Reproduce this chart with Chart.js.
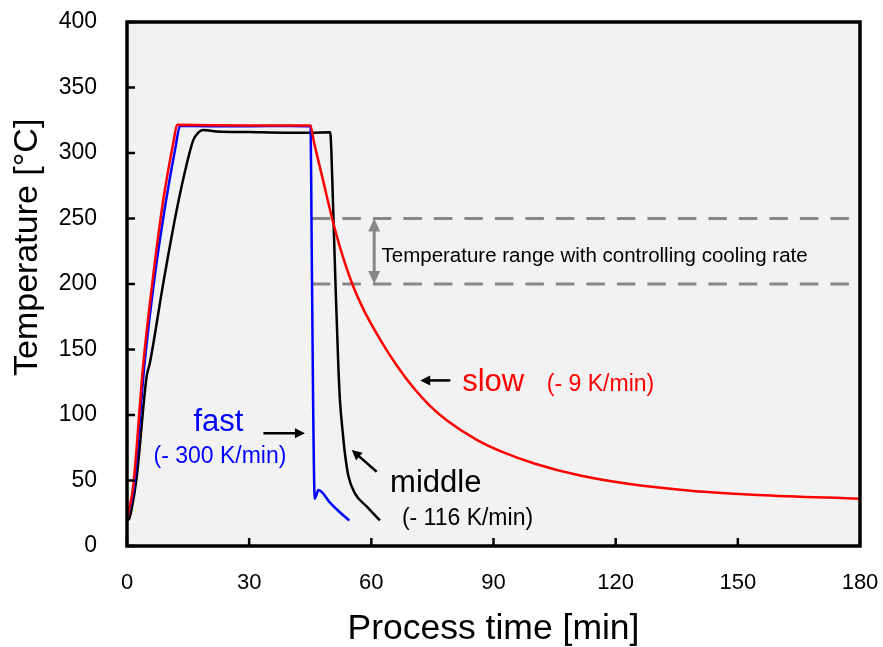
<!DOCTYPE html>
<html>
<head>
<meta charset="utf-8">
<script src="https://cdn.jsdelivr.net/npm/chart.js@4.4.1/dist/chart.umd.min.js"></script>
<style>
  body { margin: 0; background: #fff; }
  canvas { display: block; }
</style>
</head>
<body>
<canvas id="myChart" width="883" height="647"></canvas>
<script>
// process time [min] / temperature [°C]
const timeSlow = [0, 0.5, 1.5, 4.0, 6.5, 8.9, 11.5, 12.3, 20, 30, 40, 45, 46, 48, 50.3, 52.5, 55.2, 58, 62.1, 66.2, 70.3, 74.4, 78.5, 85.9, 92, 100, 111, 123, 139, 155, 180];
const tempSlow = [20.5, 28, 45, 139, 208, 264, 310, 321.5, 321.2, 321, 321, 321, 307, 281, 251, 226, 201, 181, 158, 138, 121, 107, 96, 81, 72, 63, 54, 47.5, 42, 39, 36];

const timeFast = [0, 0.6, 1.7, 4.3, 6.9, 9.5, 12, 13.0, 20, 30, 40, 45.1, 45.3, 45.7, 46.1, 46.4, 47.0, 49.9, 52, 54.6];
const tempFast = [20.5, 28, 45, 139, 208, 262, 306, 320.6, 320.5, 320.5, 320.7, 320.5, 250, 111, 36, 38, 42.7, 33, 26.5, 19.5];

const timeMiddle = [0, 0.5, 1.1, 2.4, 4.8, 5.6, 8.9, 12.2, 14.7, 16.3, 17.5, 18.7, 22, 30, 40, 45, 49.9, 50.2, 50.7, 51.2, 51.9, 52.3, 53.0, 53.5, 54.4, 56.0, 58.9, 62.1];
const tempMiddle = [20, 20.5, 27.5, 53, 129, 139.5, 200.5, 256.5, 292, 310, 315.5, 317.5, 316.5, 316, 315.5, 315.5, 315.8, 300, 250, 200, 137, 111, 86, 71, 53, 40, 30, 19.5];

// cooling rate control range
const rangeTime = [45.4, 180];
const rangeTemp = [250, 200];

const xTicks = [0, 30, 60, 90, 120, 150, 180];
const yTicks = [0, 50, 100, 150, 200, 250, 300, 350, 400];

const FONT = "'Liberation Sans', Arial, sans-serif";

function pts(xs, ys) {
    return xs.map((x, i) => ({ x: x, y: ys[i] }));
}

// text labels and arrows, placed in data units
const notes = [
    { text: 'slow', t: 82.3, v: 118.3, color: '#ff0000', size: 31 },
    { text: '(- 9 K/min)', t: 103.1, v: 118.3, color: '#ff0000', size: 23 },
    { text: 'fast', t: 16.3, v: 88, color: '#0000ff', size: 31 },
    { text: '(- 300 K/min)', t: 6.5, v: 63.6, color: '#0000ff', size: 23 },
    { text: 'middle', t: 64.6, v: 41.5, color: '#000000', size: 31 },
    { text: '(- 116 K/min)', t: 67.5, v: 16, color: '#000000', size: 23 },
    { text: 'Temperature range with controlling cooling rate', t: 62.5, v: 216.5, color: '#000000', size: 20.5 }
];
const arrows = [
    { from: [79.4, 126.4], to: [72, 126.4] },
    { from: [33.5, 86], to: [43.7, 86] },
    { from: [61.3, 56.7], to: [55.2, 73.3] }
];

function arrowHead(ctx, x1, y1, x2, y2, len, wid) {
    const a = Math.atan2(y2 - y1, x2 - x1);
    ctx.beginPath();
    ctx.moveTo(x2, y2);
    ctx.lineTo(x2 - len * Math.cos(a) + wid / 2 * Math.sin(a), y2 - len * Math.sin(a) - wid / 2 * Math.cos(a));
    ctx.lineTo(x2 - len * Math.cos(a) - wid / 2 * Math.sin(a), y2 - len * Math.sin(a) + wid / 2 * Math.cos(a));
    ctx.closePath();
    ctx.fill();
}

const decor = {
    id: 'decor',
    beforeDraw(chart) {
        const { ctx, chartArea: a } = chart;
        ctx.save();
        ctx.fillStyle = '#f2f2f2';
        ctx.fillRect(a.left, a.top, a.right - a.left, a.bottom - a.top);
        ctx.restore();
    },
    afterDatasetsDraw(chart) {
        const { ctx, chartArea: a, scales: { x, y } } = chart;
        ctx.save();

        // double arrow for the range
        const ax = x.getPixelForValue(60.7);
        const ay1 = y.getPixelForValue(rangeTemp[0]);
        const ay2 = y.getPixelForValue(rangeTemp[1]);
        ctx.strokeStyle = '#878787';
        ctx.fillStyle = '#878787';
        ctx.lineWidth = 3;
        ctx.beginPath();
        ctx.moveTo(ax, ay1 + 8);
        ctx.lineTo(ax, ay2 - 8);
        ctx.stroke();
        arrowHead(ctx, ax, ay2, ax, ay1, 13, 12);
        arrowHead(ctx, ax, ay1, ax, ay2, 13, 12);

        // black arrows
        ctx.strokeStyle = '#000';
        ctx.fillStyle = '#000';
        ctx.lineWidth = 2.5;
        arrows.forEach(ar => {
            const x1 = x.getPixelForValue(ar.from[0]), y1 = y.getPixelForValue(ar.from[1]);
            const x2 = x.getPixelForValue(ar.to[0]), y2 = y.getPixelForValue(ar.to[1]);
            const d = Math.hypot(x2 - x1, y2 - y1);
            ctx.beginPath();
            ctx.moveTo(x1, y1);
            ctx.lineTo(x2 - (x2 - x1) / d * 6, y2 - (y2 - y1) / d * 6);
            ctx.stroke();
            arrowHead(ctx, x1, y1, x2, y2, 10, 10);
        });

        // labels
        ctx.textAlign = 'left';
        ctx.textBaseline = 'alphabetic';
        notes.forEach(n => {
            ctx.font = n.size + 'px ' + FONT;
            ctx.fillStyle = n.color;
            ctx.fillText(n.text, x.getPixelForValue(n.t), y.getPixelForValue(n.v));
        });

        // inner tick marks
        ctx.strokeStyle = '#000';
        ctx.lineWidth = 2.5;
        xTicks.forEach(v => {
            const px = x.getPixelForValue(v);
            ctx.beginPath(); ctx.moveTo(px, a.bottom); ctx.lineTo(px, a.bottom - 8); ctx.stroke();
        });
        yTicks.forEach(v => {
            const py = y.getPixelForValue(v);
            ctx.beginPath(); ctx.moveTo(a.left, py); ctx.lineTo(a.left + 8, py); ctx.stroke();
        });

        // frame
        ctx.lineWidth = 3.5;
        ctx.strokeRect(a.left, a.top, a.right - a.left, a.bottom - a.top);

        // y axis title, sits a bit above the middle of the axis in the original
        ctx.translate(28, y.getPixelForValue(228));
        ctx.rotate(-Math.PI / 2);
        ctx.font = '34px ' + FONT;
        ctx.fillStyle = '#000';
        ctx.textAlign = 'center';
        ctx.textBaseline = 'middle';
        ctx.fillText('Temperature [°C]', 0, 0);
        ctx.restore();
    }
};

function curve(label, xs, ys, color) {
    return {
        label: label,
        data: pts(xs, ys),
        showLine: true,
        borderColor: color,
        borderWidth: 2.5,
        pointRadius: 0,
        cubicInterpolationMode: 'monotone',
        fill: false
    };
}
function rangeLine(label, v) {
    return {
        label: label,
        data: pts(rangeTime, [v, v]),
        showLine: true,
        borderColor: '#878787',
        borderWidth: 3,
        borderDash: [18.5, 12],
        pointRadius: 0,
        fill: false
    };
}

// no extra room for overflowing tick labels, the padding is set by hand
function noPad(s) {
    s.paddingLeft = 0; s.paddingRight = 0; s.paddingTop = 0; s.paddingBottom = 0;
}

const ctx = document.getElementById('myChart').getContext('2d');
const myChart = new Chart(ctx, {
    type: 'scatter',
    data: {
        datasets: [
            curve('slow', timeSlow, tempSlow, '#ff0000'),
            curve('fast', timeFast, tempFast, '#0000ff'),
            curve('middle', timeMiddle, tempMiddle, '#000000'),
            rangeLine('250', rangeTemp[0]),
            rangeLine('200', rangeTemp[1])
        ]
    },
    options: {
        responsive: false,
        animation: false,
        layout: { padding: { top: 22, right: 23, left: 0, bottom: 0 } },
        plugins: {
            legend: { display: false },
            tooltip: { enabled: false }
        },
        scales: {
            x: {
                type: 'linear',
                min: 0,
                max: 180,
                afterBuildTicks: s => { s.ticks = xTicks.map(v => ({ value: v })); },
                afterFit: s => { s.height = 101; noPad(s); },
                grid: { display: false, drawTicks: false },
                border: { display: false },
                ticks: { color: '#000', padding: 24, font: { family: FONT, size: 22 } },
                title: {
                    display: true,
                    text: 'Process time [min]',
                    color: '#000',
                    padding: { top: 0, bottom: 0 },
                    font: { family: FONT, size: 35.5, lineHeight: 1 }
                }
            },
            y: {
                min: 0,
                max: 400,
                afterBuildTicks: s => { s.ticks = yTicks.map(v => ({ value: v })); },
                afterFit: s => { s.width = 127; noPad(s); },
                grid: { display: false, drawTicks: false },
                border: { display: false },
                ticks: { color: '#000', padding: 30, font: { family: FONT, size: 23 } },
                title: { display: false }
            }
        }
    },
    plugins: [decor]
});
</script>
</body>
</html>
